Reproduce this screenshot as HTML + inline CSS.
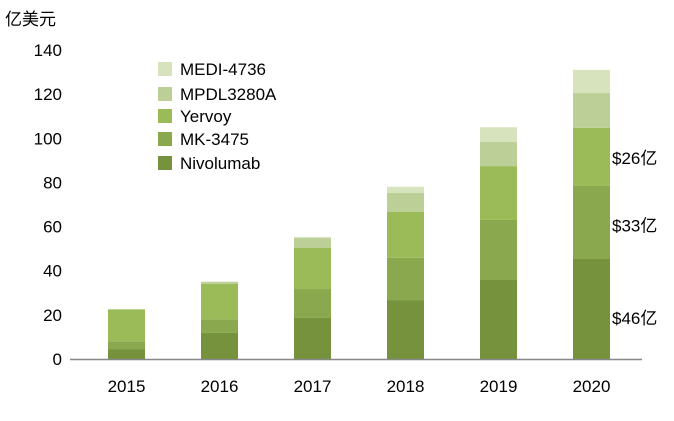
<!DOCTYPE html>
<html><head><meta charset="utf-8"><style>
html,body{margin:0;padding:0;background:#fff;}
svg text{font-family:"Liberation Sans","Noto Sans CJK SC",sans-serif;fill:#000;}
</style></head><body>
<svg id="c" width="674" height="416"></svg>
<script>
const years=["2015","2016","2017","2018","2019","2020"];
const nivolumab=[4.5,11.8,18.6,26.7,35.8,45.3];
const mk3475=[3.5,6.2,13.1,19.1,27.2,33.1];
const yervoy=[14.5,16,18.6,20.8,24.4,26.3];
const mpdl3280a=[0,1,4.5,8.6,10.9,15.8];
const medi4736=[0,0,0.5,2.8,6.7,10.5];
const yTicks=[0,20,40,60,80,100,120,140];
const seriesNames=["Nivolumab","MK-3475","Yervoy","MPDL3280A","MEDI-4736"];
const annotations=["$46亿","$33亿","$26亿"];

const NS="http://www.w3.org/2000/svg";
const svg=document.getElementById('c');
const colors=["#76923c","#8aa84d","#9bbb59","#bccf97","#d6e3bc"];
const y0=359,yTop=50,yMax=140;
const y=v=>y0-(v/yMax)*(y0-yTop);
const x=i=>126.5+i*93;
const bw=37;
function mk(tag,attrs,text){const e=document.createElementNS(NS,tag);for(const k in attrs)e.setAttribute(k,attrs[k]);if(text!==undefined)e.textContent=text;svg.appendChild(e);return e;}

let t=mk('text',{x:5,y:25,'font-size':17},'亿美元');


yTicks.forEach(v=>{const e=mk('text',{x:62,y:y(v)+6,'font-size':17,'text-anchor':'end'},String(v));

});

const series=[nivolumab,mk3475,yervoy,mpdl3280a,medi4736];
years.forEach((yr,i)=>{let cum=0;
series.forEach((s,k)=>{const v=s[i];if(v<=0)return;
const r=mk('rect',{x:x(i)-bw/2,y:y(cum+v),width:bw,height:y(cum)-y(cum+v),fill:colors[k]});


cum+=v;});
const l=mk('text',{x:x(i),y:392,'font-size':17,'text-anchor':'middle'},yr);

});

const ax=mk('line',{x1:70,x2:642,y1:y0+0.5,y2:y0+0.5,stroke:'#888','stroke-width':1.5});



const annVals=[nivolumab[5],mk3475[5],yervoy[5]];
const annOff=[15,9,7];
let c2=0;
annVals.forEach((v,k)=>{const mid=y(c2+v/2);c2+=v;
const e=mk('text',{x:612,y:mid+annOff[k],'font-size':17},annotations[k]);

});

const legY=[163,139,116,94,69];
seriesNames.forEach((n,k)=>{
const g=mk('rect',{x:158,y:legY[k]-7,width:14,height:14,fill:colors[k]});


const e=mk('text',{x:180,y:legY[k]+6,'font-size':17},n);

});
</script>
</body></html>
